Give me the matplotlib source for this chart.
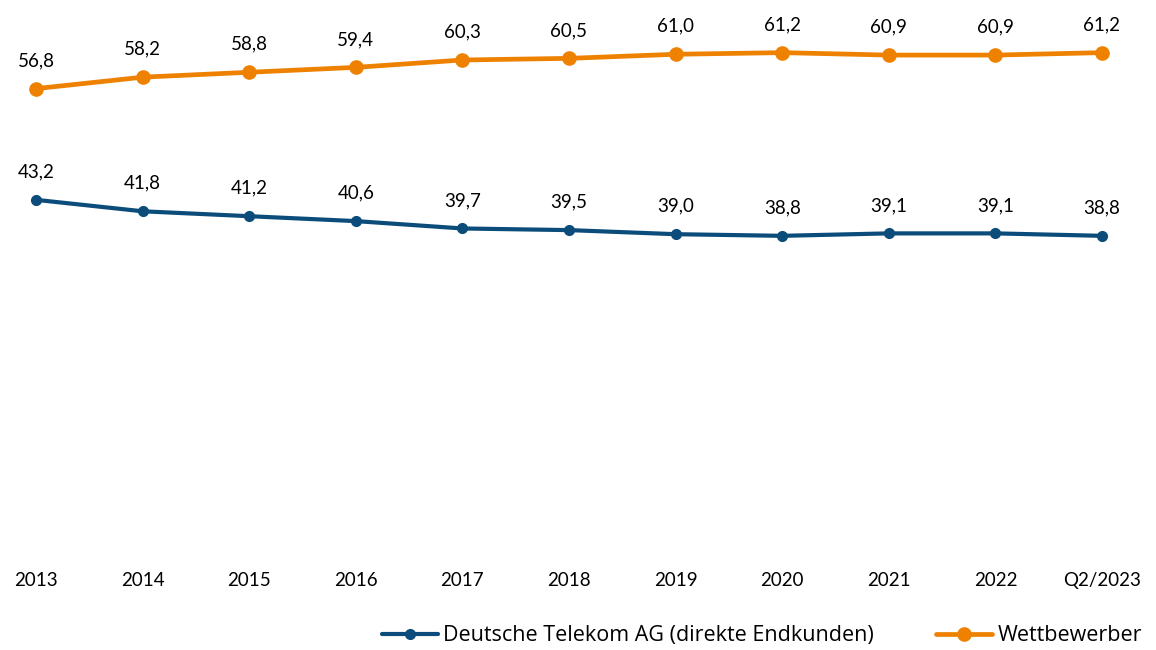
import matplotlib.pyplot as plt

# Data
labels = ["2013", "2014", "2015", "2016", "2017", "2018", "2019", "2020", "2021", "2022", "Q2/2023"]
telekom = [43.2, 41.8, 41.2, 40.6, 39.7, 39.5, 39.0, 38.8, 39.1, 39.1, 38.8]
wettbewerber = [56.8, 58.2, 58.8, 59.4, 60.3, 60.5, 61.0, 61.2, 60.9, 60.9, 61.2]

BLUE = "#0B4C7A"
ORANGE = "#EE8200"

plt.rcParams['font.family'] = ['Lato', 'DejaVu Sans']
FS = 13.5

fig = plt.figure(figsize=(11.56, 6.5), dpi=100)
ax = fig.add_axes([0.0, 0.149, 1.0, 0.843])

x = list(range(len(labels)))
ax.plot(x, telekom, color=BLUE, lw=3.0, marker="o", ms=7,
        label="Deutsche Telekom AG (direkte Endkunden)", solid_capstyle="round")
ax.plot(x, wettbewerber, color=ORANGE, lw=3.4, marker="o", ms=9.5,
        label="Wettbewerber", solid_capstyle="round")

for xi, v in zip(x, telekom):
    ax.annotate(f"{v:.1f}".replace(".", ","), (xi, v), xytext=(0, 14),
                textcoords="offset points", ha="center", va="bottom", fontsize=FS)
for xi, v in zip(x, wettbewerber):
    ax.annotate(f"{v:.1f}".replace(".", ","), (xi, v), xytext=(0, 14),
                textcoords="offset points", ha="center", va="bottom", fontsize=FS)

ax.set_xlim(-0.338, 10.507)
ax.set_ylim(0, 67)
ax.set_yticks([])
ax.set_xticks([])
for s in ax.spines.values():
    s.set_visible(False)

# category labels below the plot
for xi, lab in zip(x, labels):
    ax.text(xi, -3.3, lab, ha="center", va="center", fontsize=FS)

fig.legend(*ax.get_legend_handles_labels(), loc="center right",
           bbox_to_anchor=(0.988, 0.022), ncol=2, frameon=False,
           prop={"family": ["Open Sans", "DejaVu Sans"], "size": 15.5},
           handlelength=2.6, handletextpad=0.25, columnspacing=2.9,
           borderaxespad=0, borderpad=0)

fig.savefig("out.png", dpi=100, facecolor="white")
